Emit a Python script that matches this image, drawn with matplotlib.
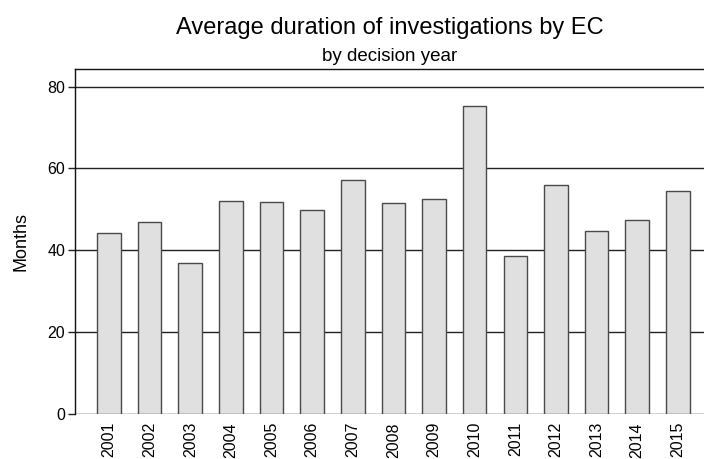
import matplotlib
matplotlib.use("Agg")
import matplotlib.pyplot as plt

years = ["2001", "2002", "2003", "2004", "2005", "2006", "2007", "2008",
         "2009", "2010", "2011", "2012", "2013", "2014", "2015"]
months = [44.3, 46.9, 36.9, 52.0, 51.8, 49.9, 57.2, 51.6,
          52.4, 75.3, 38.6, 55.9, 44.7, 47.4, 54.6]
yticks = [0, 20, 40, 60, 80]

plt.rcParams['font.family'] = ['Liberation Sans', 'DejaVu Sans']

W, H = 704, 459
fig = plt.figure(figsize=(W / 100, H / 100), dpi=100)
ax = fig.add_axes([75 / W, 1 - 413.7 / H, 1 - 75 / W, (413.7 - 69.3) / H])

x = list(range(len(years)))
ax.bar(x, months, width=0.58, color='#e0e0e0', edgecolor='#4a4a4a',
       linewidth=1.0, zorder=3)

ax.set_xlim(-0.837, 14.645)
ax.set_ylim(0, 84.25)
ax.set_yticks(yticks)
ax.set_yticklabels([str(v) for v in yticks], fontsize=11.5)
ax.set_xticks(x)
ax.set_xticklabels(years, rotation=90, fontsize=11.5)
ax.tick_params(axis='x', length=0, pad=6)
ax.tick_params(axis='y', length=5, width=1, pad=2, color='#222222')

for v in yticks:
    ax.axhline(v, color='#222222', linewidth=1.0, zorder=1)

ax.spines['right'].set_visible(False)
ax.spines['bottom'].set_visible(False)
ax.spines['left'].set_color('#111111')
ax.spines['top'].set_color('#111111')
ax.spines['left'].set_linewidth(1.0)
ax.spines['top'].set_linewidth(1.0)

ax.set_ylabel('Months', fontsize=13)
ax.yaxis.set_label_coords((30 - 75) / (W - 75), 0.5)

cx = (75 + W) / 2 / W
fig.text(cx, 1 - 34 / H, 'Average duration of investigations by EC',
         fontsize=17, ha='center', va='baseline')
fig.text(cx, 1 - 61 / H, 'by decision year', fontsize=13.5,
         ha='center', va='baseline')

fig.savefig('out.png', dpi=100)
